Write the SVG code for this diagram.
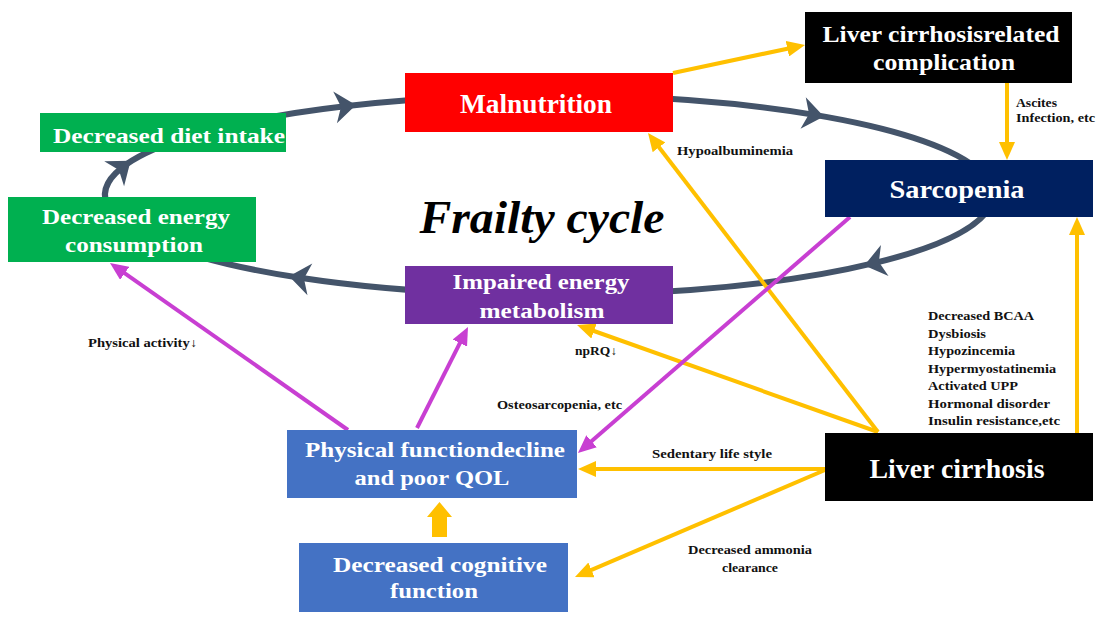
<svg xmlns="http://www.w3.org/2000/svg" width="1097" height="632" viewBox="0 0 1097 632">
<defs>
<style>
.cyc{fill:none;stroke:#44546a;stroke-width:6;marker-mid:url(#stealth)}
.ya{fill:none;stroke:#ffc000;stroke-width:4;marker-end:url(#yhead)}
.ma{fill:none;stroke:#c83fd2;stroke-width:4;marker-end:url(#mhead)}
.nt{font-family:"Liberation Serif","Times New Roman",serif;font-weight:bold;fill:#fff;text-anchor:middle}
.lb{font-family:"Liberation Serif","Times New Roman",serif;font-weight:bold;fill:#111;font-size:12px}
</style>
<marker id="stealth" markerUnits="userSpaceOnUse" viewBox="-12 -18 24 36" markerWidth="24" markerHeight="36" refX="0" refY="0" orient="auto">
<path d="M11,0 L-10,-16 L-4,0 L-10,16 Z" fill="#44546a"/>
</marker>
<marker id="yhead" markerUnits="userSpaceOnUse" viewBox="0 0 18 16" markerWidth="18" markerHeight="16" refX="12" refY="8" orient="auto">
<path d="M0,0 L18,8 L0,16 Z" fill="#ffc000"/>
</marker>
<marker id="mhead" markerUnits="userSpaceOnUse" viewBox="0 0 18 16" markerWidth="18" markerHeight="16" refX="12" refY="8" orient="auto">
<path d="M0,0 L18,8 L0,16 Z" fill="#c83fd2"/>
</marker>
</defs>
<rect width="1097" height="632" fill="#fff"/>

<g id="connectors">
<path class="cyc" d="M200,133.2 A444,100 0 0 1 345,106.2 A444,100 0 0 1 480,96.2"/>
<path class="cyc" d="M620,96.3 A444,100 0 0 1 813,114.6 A444,100 0 0 1 975,166.8"/>
<path class="cyc" d="M985,213.9 A444,100 0 0 1 875,262.9 A444,100 0 0 1 620,293.7"/>
<path class="cyc" d="M480,293.8 A444,100 0 0 1 300,277.8 A444,100 0 0 1 200,256.8"/>
<path class="cyc" d="M110,210 A444,100 0 0 1 122,167.6 A444,100 0 0 1 180,139.4"/>

<path class="ya" d="M673,73 L799.1,46.2"/>
<path class="ya" d="M1007,83 L1007,154"/>
<path class="ya" d="M1077,433 L1077,223"/>
<path class="ya" d="M878,432 L651.7,137.8"/>
<path class="ya" d="M878,432 L582.7,327"/>
<path class="ya" d="M825,469 L584,469"/>
<path class="ya" d="M825,470 L580.5,574.6"/>
<polygon points="432,537 447,537 447,517 452,517 439.5,502 427,517 432,517" fill="#ffc000"/>

<path class="ma" d="M348,430 L114.9,266.4"/>
<path class="ma" d="M417,428 L465.3,332.4"/>
<path class="ma" d="M850,217 L582.5,449.1"/>
</g>

<g id="labels">
<text class="lb" x="677" y="155" textLength="116" lengthAdjust="spacingAndGlyphs">Hypoalbuminemia</text>
<text class="lb" x="1016" y="107" textLength="41" lengthAdjust="spacingAndGlyphs">Ascites</text>
<text class="lb" x="1016" y="122" textLength="79" lengthAdjust="spacingAndGlyphs">Infection, etc</text>
<text class="lb" x="928" y="320" textLength="106" lengthAdjust="spacingAndGlyphs">Decreased BCAA</text>
<text class="lb" x="928" y="338" textLength="58" lengthAdjust="spacingAndGlyphs">Dysbiosis</text>
<text class="lb" x="928" y="355" textLength="87" lengthAdjust="spacingAndGlyphs">Hypozincemia</text>
<text class="lb" x="928" y="373" textLength="128" lengthAdjust="spacingAndGlyphs">Hypermyostatinemia</text>
<text class="lb" x="928" y="390" textLength="90" lengthAdjust="spacingAndGlyphs">Activated UPP</text>
<text class="lb" x="928" y="408" textLength="122" lengthAdjust="spacingAndGlyphs">Hormonal disorder</text>
<text class="lb" x="928" y="425" textLength="132" lengthAdjust="spacingAndGlyphs">Insulin resistance,etc</text>
<text class="lb" x="88" y="347" textLength="109" lengthAdjust="spacingAndGlyphs">Physical activity↓</text>
<text class="lb" x="575" y="355" textLength="42" lengthAdjust="spacingAndGlyphs">npRQ↓</text>
<text class="lb" x="497" y="409" textLength="125" lengthAdjust="spacingAndGlyphs">Osteosarcopenia, etc</text>
<text class="lb" x="652" y="458" textLength="120" lengthAdjust="spacingAndGlyphs">Sedentary life style</text>
<text class="lb" x="688" y="554" textLength="124" lengthAdjust="spacingAndGlyphs">Decreased ammonia</text>
<text class="lb" x="722" y="572" textLength="56" lengthAdjust="spacingAndGlyphs">clearance</text>
<text x="542" y="233" font-family="Liberation Serif, Times New Roman, serif" font-weight="bold" font-style="italic" font-size="46" fill="#000" text-anchor="middle" textLength="245" lengthAdjust="spacingAndGlyphs">Frailty cycle</text>
</g>

<g id="malnutrition">
<rect x="405" y="73" width="268" height="59" fill="#ff0000"/>
<text class="nt" x="536" y="113" font-size="27" textLength="152" lengthAdjust="spacingAndGlyphs">Malnutrition</text>
</g>
<g id="complication">
<rect x="805" y="12" width="267" height="71" fill="#000"/>
<text class="nt" x="941" y="42" font-size="23" textLength="237" lengthAdjust="spacingAndGlyphs">Liver cirrhosisrelated</text>
<text class="nt" x="944" y="70" font-size="23" textLength="142" lengthAdjust="spacingAndGlyphs">complication</text>
</g>
<g id="sarcopenia">
<rect x="825" y="160" width="268" height="57" fill="#002060"/>
<text class="nt" x="957" y="198" font-size="25" textLength="135" lengthAdjust="spacingAndGlyphs">Sarcopenia</text>
</g>
<g id="diet-intake">
<rect x="40" y="113" width="246" height="39" fill="#00b050"/>
<text class="nt" x="169" y="143" font-size="22" textLength="232" lengthAdjust="spacingAndGlyphs">Decreased diet intake</text>
</g>
<g id="energy-consumption">
<rect x="8" y="197" width="248" height="65" fill="#00b050"/>
<text class="nt" x="136" y="224" font-size="22" textLength="188" lengthAdjust="spacingAndGlyphs">Decreased energy</text>
<text class="nt" x="134" y="252" font-size="22" textLength="138" lengthAdjust="spacingAndGlyphs">consumption</text>
</g>
<g id="energy-metabolism">
<rect x="405" y="266" width="268" height="58" fill="#7030a0"/>
<text class="nt" x="541" y="289" font-size="22" textLength="177" lengthAdjust="spacingAndGlyphs">Impaired energy</text>
<text class="nt" x="542" y="318" font-size="22" textLength="125" lengthAdjust="spacingAndGlyphs">metabolism</text>
</g>
<g id="physical-function">
<rect x="287" y="430" width="290" height="68" fill="#4472c4"/>
<text class="nt" x="435" y="457" font-size="22" textLength="260" lengthAdjust="spacingAndGlyphs">Physical functiondecline</text>
<text class="nt" x="432" y="485" font-size="22" textLength="155" lengthAdjust="spacingAndGlyphs">and poor QOL</text>
</g>
<g id="cognitive">
<rect x="299" y="543" width="269" height="69" fill="#4472c4"/>
<text class="nt" x="440" y="572" font-size="22" textLength="214" lengthAdjust="spacingAndGlyphs">Decreased cognitive</text>
<text class="nt" x="434" y="598" font-size="22" textLength="88" lengthAdjust="spacingAndGlyphs">function</text>
</g>
<g id="liver-cirrhosis">
<rect x="825" y="433" width="268" height="68" fill="#000"/>
<text class="nt" x="957" y="478" font-size="28" textLength="175" lengthAdjust="spacingAndGlyphs">Liver cirrhosis</text>
</g>
</svg>
